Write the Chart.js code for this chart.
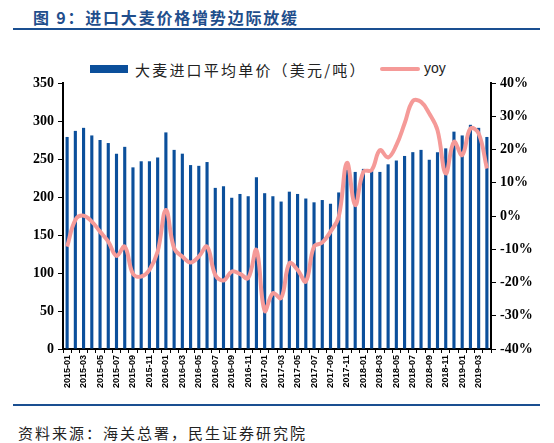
<!doctype html>
<html lang="zh">
  <head>
    <meta charset="utf-8">
    <title>进口大麦价格增势边际放缓</title>
    <style>
      * { margin: 0; padding: 0; }
      body { width: 554px; height: 443px; background: #fff; position: relative; overflow: hidden; }
      .title {
        position: absolute; left: 33px; top: 5px;
        font-family: "Noto Sans CJK SC", sans-serif; font-weight: bold;
        font-size: 16px; color: #1f4e8c; letter-spacing: 1.8px;
      }
      .rule { position: absolute; left: 13px; width: 527px; height: 2px; background: #1a4f91; }
      .legend { position: absolute; top: 59px; font-size: 15px; color: #222; }
      .swatch { position: absolute; }
      .chartBox { position: absolute; left: 0; top: 60px; width: 554px; height: 345px; }
      .source {
        position: absolute; left: 18px; top: 422px;
        font-family: "Noto Sans CJK SC", sans-serif; font-size: 15px; letter-spacing: 2px; color: #222;
      }
    </style>
  </head>
  <body>
    <div class="title">图 9：进口大麦价格增势边际放缓</div>
    <div class="rule" style="top:28px"></div>

    <div class="swatch" style="left:90px;top:65px;width:38px;height:8px;background:#0b4f9b"></div>
    <div class="legend" style="left:135px;font-family:'Noto Sans CJK SC',sans-serif;letter-spacing:2.2px">大麦进口平均单价（美元/吨）</div>
    <div class="swatch" style="left:380px;top:67px;width:40px;height:4px;border-radius:2px;background:#f59a98"></div>
    <div class="legend" style="left:424px;top:60px;font-family:'Liberation Sans',sans-serif;font-size:14px">yoy</div>

    <div class="chartBox"><canvas id="myChart"></canvas></div>

    <div class="rule" style="top:404px"></div>
    <div class="source">资料来源：海关总署，民生证券研究院</div>

    <script src="https://cdn.jsdelivr.net/npm/chart.js/dist/chart.umd.min.js"></script>
    <script>
    // months 2015-01 .. 2019-04
    const months = [];
    for (let y = 2015; y <= 2019; y++) {
      for (let m = 1; m <= 12; m++) {
        if (y === 2019 && m > 4) break;
        months.push(y + '-' + String(m).padStart(2, '0'));
      }
    }

    // 大麦进口平均单价（美元/吨）
    const price = [
      279, 287, 291, 281, 275, 271, 257, 266, 239, 247, 247, 252,
      285, 262, 257, 242, 241, 246, 212, 214, 199, 204, 201, 226,
      205, 201, 194, 207, 204, 198, 193, 196, 191, 206, 236, 233,
      237, 234, 233, 243, 248, 254, 259, 262, 249, 259, 264, 286,
      281, 295, 291, 279
    ];

    // yoy (%)
    const yoy = [
      -9.2, -1.2, 0.1, -1.7, -4.7, -7.7, -12.0, -9.2, -17.4, -18.2, -16.2, -10.7,
      1.8, -9.7, -12.2, -14.0, -12.2, -9.2, -17.7, -19.4, -16.7, -17.4, -18.7, -10.2,
      -28.5, -23.2, -24.7, -14.2, -16.2, -19.7, -9.2, -8.0, -4.7, -0.2, 16.0, 3.3,
      13.3, 13.8, 19.8, 17.6, 21.3, 27.8, 34.6, 34.3, 30.8, 25.8, 12.8, 22.3,
      18.3, 26.3, 24.8, 14.3
    ];

    const tickFont = { family: 'Liberation Serif', weight: 'bold', size: 14 };

    const data = {
      labels: months,
      datasets: [
        {
          type: 'line',
          label: 'yoy',
          data: yoy,
          yAxisID: 'y1',
          borderColor: '#f59a98',
          borderWidth: 4,
          pointRadius: 0,
          tension: 0.4,
          order: 0
        },
        {
          type: 'bar',
          label: '大麦进口平均单价（美元/吨）',
          data: price,
          yAxisID: 'y',
          backgroundColor: '#0b4f9b',
          barPercentage: 0.38,
          categoryPercentage: 1,
          order: 1
        }
      ]
    };

    const config = {
      data,
      options: {
        responsive: false,
        animation: false,
        layout: { padding: { top: 23, left: 0, right: 0, bottom: 0 } },
        plugins: { legend: { display: false }, tooltip: { enabled: false } },
        scales: {
          x: {
            offset: true,
            border: { color: '#000', width: 2 },
            grid: { drawOnChartArea: false, color: '#000', tickLength: 4, offset: true },
            ticks: {
              autoSkip: false, minRotation: 90, maxRotation: 90, padding: 2,
              color: '#000',
              font: { family: 'Liberation Sans', weight: 'bold', size: 9 },
              callback: (v, i) => (i % 2 === 0 ? months[i] : '')
            },
            afterFit: s => { s.height = 56; }
          },
          y: {
            position: 'left', min: 0, max: 350,
            border: { color: '#000', width: 2 },
            grid: { drawOnChartArea: false, color: '#000', tickLength: 5 },
            ticks: { stepSize: 50, color: '#000', font: tickFont, padding: 4 },
            afterFit: s => { s.width = 63; }
          },
          y1: {
            position: 'right', min: -40, max: 40,
            border: { color: '#000', width: 2 },
            grid: { drawOnChartArea: false, color: '#000', tickLength: 5 },
            ticks: { stepSize: 10, color: '#000', font: tickFont, padding: 4, callback: v => v + '%' },
            afterFit: s => { s.width = 63; }
          }
        }
      }
    };

    const canvas = document.getElementById('myChart');
    canvas.width = 554;
    canvas.height = 345;
    const myChart = new Chart(canvas, config);
    </script>
  </body>
</html>
